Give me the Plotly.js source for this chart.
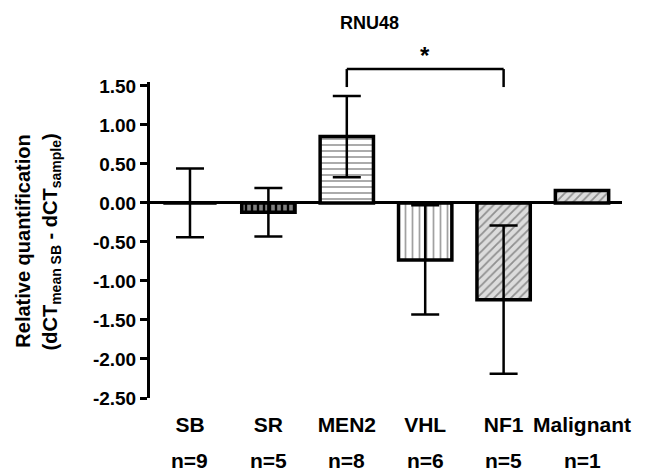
<!DOCTYPE html>
<html>
<head>
<meta charset="utf-8">
<script src="https://cdn.plot.ly/plotly-3.0.1.min.js"></script>
<style>html,body{margin:0;padding:0;background:#fff;}#chart{width:647px;height:471px;}</style>
</head>
<body>
<div id="chart"></div>
<script>
// ---- data ----
var categories = ['SB', 'SR', 'MEN2', 'VHL', 'NF1', 'Malignant'];
var nLabels = ['n=9', 'n=5', 'n=8', 'n=6', 'n=5', 'n=1'];
var means = [0, -0.12, 0.85, -0.73, -1.24, 0.16];
var errors = [0.44, 0.31, 0.52, 0.70, 0.95, null];
var yTickVals = [1.5, 1.0, 0.5, 0.0, -0.5, -1.0, -1.5, -2.0, -2.5];
var yTickText = ['1.50', '1.00', '0.50', '0.00', '-0.50', '-1.00', '-1.50', '-2.00', '-2.50'];
var chartTitle = 'RNU48';
var yTitle1 = 'Relative quantification';
var yTitle2 = '(dCT<sub>mean SB</sub> - dCT<sub>sample</sub>)';
var sigPair = ['MEN2', 'NF1'];
var sigLabel = '*';

// ---- styles ----
var patShapes = ['', '|', '-', '|', '/', '/'];
var patBg = ['white', 'black', 'white', 'white', '#dcdcdc', '#dcdcdc'];
var patFg = ['black', 'white', 'black', 'black', '#333333', '#333333'];
var patSize = [6, 6, 6, 7, 6, 6];
var patSolid = [0.3, 0.6, 0.3, 0.25, 0.3, 0.3];

var F = 'Liberation Sans, Arial, Helvetica, sans-serif';

var trace = {
  type: 'bar',
  x: categories,
  y: means,
  width: 0.68,
  marker: {
    color: patBg,
    line: {color: 'black', width: 3.5},
    pattern: {shape: patShapes, bgcolor: patBg, fgcolor: patFg, size: patSize, solidity: patSolid, fillmode: 'overlay'}
  },
  error_y: {type: 'data', array: errors, visible: true, color: 'black', thickness: 2.5, width: 14},
  hoverinfo: 'skip'
};

var annotations = [
  {text: chartTitle, xref: 'paper', yref: 'paper', x: 0.466, y: 1.187, xanchor: 'center', yanchor: 'middle', showarrow: false,
   font: {family: F, size: 18, color: 'black', weight: 700}},
  {text: sigLabel, xref: 'x', yref: 'paper', x: (categories.indexOf(sigPair[0]) + categories.indexOf(sigPair[1])) / 2,
   y: 1.133, xanchor: 'center', yanchor: 'top', showarrow: false, font: {family: F, size: 24, color: 'black', weight: 700}},
  {text: yTitle1, xref: 'paper', yref: 'paper', x: -0.271, y: 0.495, xanchor: 'center', yanchor: 'middle', textangle: -90, showarrow: false,
   font: {family: F, size: 20, color: 'black', weight: 700}},
  {text: yTitle2, xref: 'paper', yref: 'paper', x: -0.208, y: 0.495, xanchor: 'center', yanchor: 'middle', textangle: -90, showarrow: false,
   font: {family: F, size: 20, color: 'black', weight: 700}}
];
categories.forEach(function (c, i) {
  annotations.push({text: nLabels[i], xref: 'x', yref: 'paper', x: c, y: -0.198, xanchor: 'center', yanchor: 'middle',
    showarrow: false, borderpad: 0, font: {family: F, size: 21, color: 'black', weight: 700}});
});

var i0 = categories.indexOf(sigPair[0]), i1 = categories.indexOf(sigPair[1]);
var shapes = [
  {type: 'line', xref: 'x', yref: 'paper', x0: i0, x1: i1, y0: 1.041, y1: 1.041, line: {color: 'black', width: 2.5}},
  {type: 'line', xref: 'x', yref: 'paper', x0: i0, x1: i0, y0: 1.041, y1: 0.984, line: {color: 'black', width: 2.5}},
  {type: 'line', xref: 'x', yref: 'paper', x0: i1, x1: i1, y0: 1.041, y1: 0.984, line: {color: 'black', width: 2.5}}
];

var layout = {
  width: 647, height: 471,
  margin: {l: 150, r: 25, t: 82, b: 73, pad: 0},
  paper_bgcolor: 'white', plot_bgcolor: 'white',
  showlegend: false,
  xaxis: {
    type: 'category', range: [-0.51, 5.51], showline: false, showgrid: false, zeroline: false,
    ticks: '', tickfont: {family: F, size: 21, color: 'black', weight: 700}, ticklabelstandoff: 12,
    fixedrange: true
  },
  yaxis: {
    range: [-2.5, 1.55], tickvals: yTickVals, ticktext: yTickText, showgrid: false,
    showline: true, linewidth: 3, linecolor: 'black', ticks: 'outside', ticklen: 7, tickwidth: 3, tickcolor: 'black',
    zeroline: true, zerolinewidth: 3, zerolinecolor: 'black',
    tickfont: {family: F, size: 19, color: 'black', weight: 700}, fixedrange: true
  },
  annotations: annotations,
  shapes: shapes
};

Plotly.newPlot('chart', [trace], layout, {displayModeBar: false, staticPlot: true});
</script>
</body>
</html>
